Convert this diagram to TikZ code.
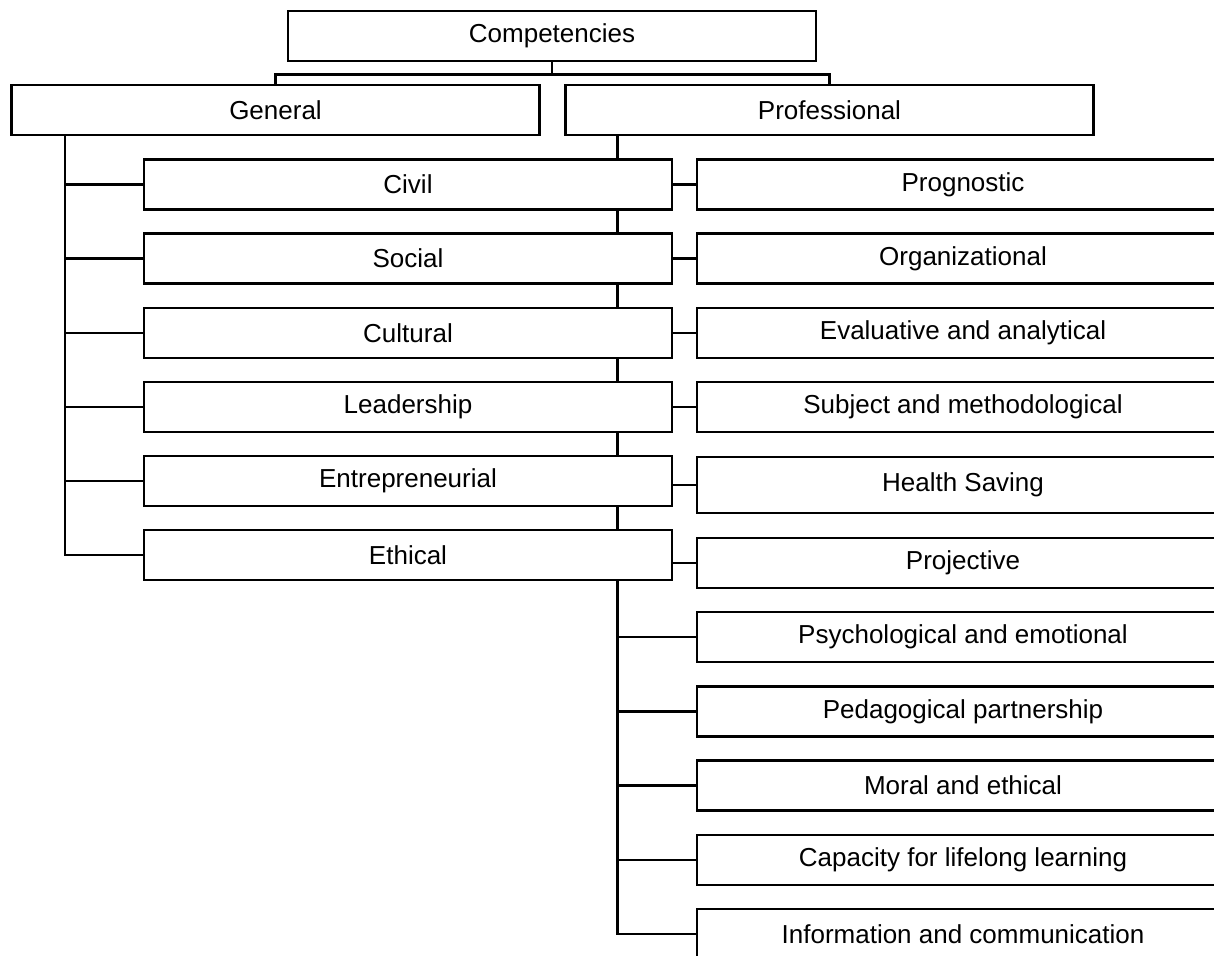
\documentclass[tikz,border=0pt]{standalone}
\usepackage{fontspec}
\setmainfont{Liberation Sans}
\usetikzlibrary{backgrounds}

\begin{document}
\begin{tikzpicture}[x=0.75pt,y=-0.75pt,
	cbox/.style={draw=black,fill=white,line width=2pt,inner sep=0pt,minimum height=37.5pt,font=\fontsize{19.5}{23}\selectfont},
	lbox/.style={cbox,minimum width=396pt},
	rbox/.style={cbox,minimum width=399pt},
	conn/.style={line width=2pt}]
	\useasboundingbox (0,0) rectangle (1214,956);
	\clip (0,0) rectangle (1214,956);
	\node[lbox] (comp) at (552,36) {Competencies};
	\node[lbox] (general) at (275.5,110) {General};
	\node[lbox] (prof) at (829.5,110) {Professional};
	\node[lbox] (civil) at (408,184.5) {Civil};
	\node[lbox] (social) at (408,258.5) {Social};
	\node[lbox] (cultural) at (408,333) {Cultural};
	\node[lbox] (leadership) at (408,407) {Leadership};
	\node[lbox] (entre) at (408,481) {Entrepreneurial};
	\node[lbox] (ethical) at (408,555) {Ethical};
	\node[rbox] (prognostic) at (963,184.5) {Prognostic};
	\node[rbox] (organiz) at (963,258.5) {Organizational};
	\node[rbox] (evaluative) at (963,333) {Evaluative and analytical};
	\node[rbox] (subject) at (963,407) {Subject and methodological};
	\node[rbox,minimum height=42pt] (health) at (963,485) {Health Saving};
	\node[rbox] (projective) at (963,563) {Projective};
	\node[rbox] (psycho) at (963,637) {Psychological and emotional};
	\node[rbox] (pedagog) at (963,711.5) {Pedagogical partnership};
	\node[rbox] (moral) at (963,785.5) {Moral and ethical};
	\node[rbox] (capacity) at (963,860) {Capacity for lifelong learning};
	\node[rbox] (info) at (963,934) {Information and communication};
	\coordinate (gtrunk) at ([xshift=41pt]general.south west);
	\coordinate (ptrunk) at ([xshift=40pt]prof.south west);
	\begin{scope}[on background layer]
	\draw[conn] (comp.south) -- ++(0,12) -| (general.north);
	\draw[conn] (comp.south) -- ++(0,12) -| (prof.north);
	\draw[conn] (gtrunk) |- (civil.west);
	\draw[conn] (gtrunk) |- (social.west);
	\draw[conn] (gtrunk) |- (cultural.west);
	\draw[conn] (gtrunk) |- (leadership.west);
	\draw[conn] (gtrunk) |- (entre.west);
	\draw[conn] (gtrunk) |- (ethical.west);
	\draw[conn] (ptrunk) |- (prognostic.west);
	\draw[conn] (ptrunk) |- (organiz.west);
	\draw[conn] (ptrunk) |- (evaluative.west);
	\draw[conn] (ptrunk) |- (subject.west);
	\draw[conn] (ptrunk) |- (health.west);
	\draw[conn] (ptrunk) |- (projective.west);
	\draw[conn] (ptrunk) |- (psycho.west);
	\draw[conn] (ptrunk) |- (pedagog.west);
	\draw[conn] (ptrunk) |- (moral.west);
	\draw[conn] (ptrunk) |- (capacity.west);
	\draw[conn] (ptrunk) |- (info.west);
	\end{scope}
\end{tikzpicture}
\end{document}
